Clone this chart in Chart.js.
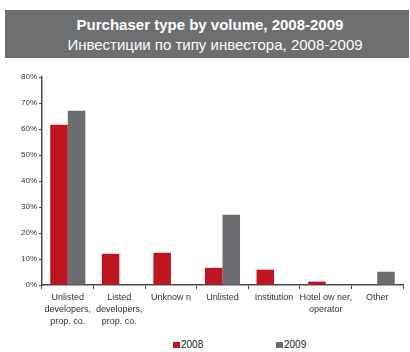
<!DOCTYPE html>
<html>
<head>
<meta charset="utf-8">
<script src="https://cdn.jsdelivr.net/npm/chart.js@4"></script>
<style>
  html, body { margin: 0; padding: 0; background: #fff; width: 410px; height: 352px; overflow: hidden; font-family: "Liberation Sans", Arial, sans-serif; }
  #title { position: absolute; left: 5px; top: 10px; width: 404px; height: 48px; background: #6d6e70; color: #fff; text-align: center; }
  #t1 { position: absolute; left: 0; right: 0; top: 5px; font-weight: bold; font-size: 15px; line-height: 19px; padding-left: 6px; }
  #t2 { position: absolute; left: 0; right: 0; top: 25px; font-size: 15px; line-height: 19px; padding-left: 16px; }
  #wrap { position: absolute; left: 0; top: 60px; width: 410px; height: 275px; }
  #legend { position: absolute; top: 338px; left: 0; width: 410px; height: 14px; font-size: 10px; color: #222; }
  .li { position: absolute; top: 0; line-height: 14px; }
  .sw { position: absolute; top: 4px; width: 7px; height: 6px; }
</style>
</head>
<body>
<div id="title"><div id="t1">Purchaser type by volume, 2008-2009</div><div id="t2">Инвестиции по типу инвестора, 2008-2009</div></div>
<div id="wrap"><canvas id="c"></canvas></div>
<div id="legend"></div>
<script>
const categories = [
  ["Unlisted", "developers,", "prop. co."],
  ["Listed", "developers,", "prop. co."],
  ["Unknow n"],
  ["Unlisted"],
  ["Institution"],
  ["Hotel ow ner,", "operator"],
  ["Other"]
];
const seriesNames = ["2008", "2009"];
const values2008 = [61.6, 12.0, 12.4, 6.6, 5.9, 1.3, null];
const values2009 = [67.0, null, null, 27.0, null, null, 5.1];
const yTicks = [0, 10, 20, 30, 40, 50, 60, 70, 80];
const colors = ["#be1620", "#6c6d70"];

// HTML legend
const legend = document.getElementById('legend');
const legendX = [173, 276];
seriesNames.forEach((n, i) => {
  const sw = document.createElement('div');
  sw.className = 'sw';
  sw.style.left = legendX[i] + 'px';
  sw.style.background = colors[i];
  legend.appendChild(sw);
  const t = document.createElement('div');
  t.className = 'li';
  t.style.left = (legendX[i] + 8) + 'px';
  t.textContent = n;
  legend.appendChild(t);
});

const axisColor = "#4a4a4a";
new Chart(document.getElementById('c'), {
  type: 'bar',
  data: {
    labels: categories,
    datasets: [
      { label: seriesNames[0], data: values2008, backgroundColor: colors[0], borderWidth: 0 },
      { label: seriesNames[1], data: values2009, backgroundColor: colors[1], borderWidth: 0 }
    ]
  },
  options: {
    responsive: true,
    maintainAspectRatio: false,
    animation: false,
    devicePixelRatio: 1,
    layout: { padding: { top: 17, right: 7, left: 0, bottom: 0 } },
    datasets: { bar: { categoryPercentage: 0.68, barPercentage: 1.0 } },
    plugins: { legend: { display: false }, tooltip: { enabled: false } },
    scales: {
      x: {
        grid: { display: true, drawOnChartArea: false, offset: true, tickLength: 4, color: axisColor, lineWidth: 1 },
        border: { display: true, color: axisColor, width: 1.5 },
        ticks: { font: { family: "Liberation Sans", size: 9, lineHeight: 1.35 }, color: "#333", padding: 2, maxRotation: 0, autoSkip: false },
        afterFit: s => { s.height = 50; }
      },
      y: {
        min: 0, max: 80,
        afterBuildTicks: s => { s.ticks = yTicks.map(v => ({ value: v })); },
        grid: { display: true, drawOnChartArea: false, tickLength: 3, color: axisColor, lineWidth: 1 },
        border: { display: true, color: axisColor, width: 1.5 },
        ticks: { font: { family: "Liberation Sans", size: 8 }, color: "#333", padding: 2, callback: v => v + "%" },
        afterFit: s => { s.width = 42; }
      }
    }
  }
});
</script>
</body>
</html>
